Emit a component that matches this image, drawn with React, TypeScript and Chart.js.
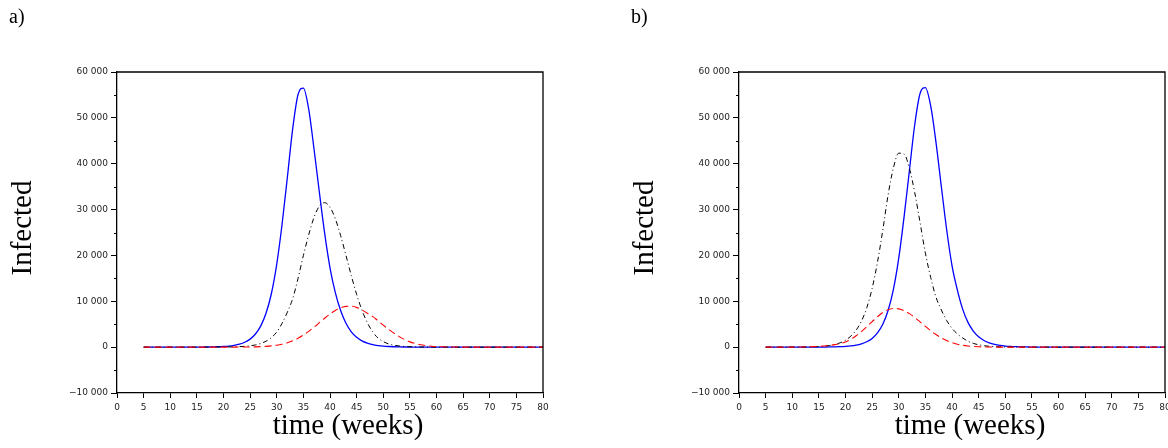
import { useEffect, useRef } from 'react'
import { Chart, registerables } from 'chart.js'
Chart.register(...registerables)

const WEEKS = [5, 6, 7, 8, 9, 10, 11, 12, 13, 14, 15, 16, 17, 18, 19, 20, 21, 22, 23, 24, 25, 26, 27, 28, 29,
  30, 31, 32, 33, 34, 35, 36, 37, 38, 39, 40, 41, 42, 43, 44, 45, 46, 47, 48, 49, 50, 51, 52, 53, 54,
  55, 56, 57, 58, 59, 60, 61, 62, 63, 64, 65, 66, 67, 68, 69, 70, 71, 72, 73, 74, 75, 76, 77, 78, 79, 80]

// a) — weeks 5..80
const BLUE_A = [0, 0, 1, 1, 2, 3, 4, 6, 9, 12, 18, 25, 35, 55, 90, 150, 240, 400, 650, 1070, 1750, 2860, 4640, 7450, 11700,
  18100, 26800, 37100, 47700, 55100, 56500, 51900, 43200, 33800, 24800, 17300, 11900, 8000, 5200, 3350,
  2150, 1370, 870, 550, 350, 220, 140, 88, 55, 35, 22, 14, 9, 5, 3, 2, 1, 1, 1, 0,
  0, 0, 0, 0, 0, 0, 0, 0, 0, 0, 0, 0, 0, 0, 0, 0]
const BLACK_A = [0, 0, 0, 0, 0, 0, 0, 0, 0, 1, 2, 4, 6, 9, 15, 25, 40, 65, 105, 175, 290, 480, 800, 1300, 2100,
  3300, 5200, 7640, 10600, 15000, 20000, 24500, 28300, 30750, 31500, 30500, 28000, 24300, 20000, 15600,
  11500, 8070, 5350, 3360, 2000, 1200, 720, 430, 260, 155, 95, 55, 33, 20, 12, 7, 4, 2, 1, 0,
  0, 0, 0, 0, 0, 0, 0, 0, 0, 0, 0, 0, 0, 0, 0, 0]
const RED_A = [0, 0, 0, 0, 0, 0, 0, 0, 0, 0, 0, 1, 2, 3, 4, 5, 8, 12, 18, 25, 40, 65, 105, 170, 270,
  420, 650, 970, 1400, 1950, 2630, 3440, 4360, 5330, 6310, 7220, 8000, 8580, 8900, 8930,
  8670, 8140, 7390, 6700, 5750, 4800, 3900, 3050, 2300, 1650, 1150, 780, 510, 330, 205, 125, 75, 45, 27, 15,
  9, 5, 3, 2, 1, 0, 0, 0, 0, 0, 0, 0, 0, 0, 0, 0]

// b) — weeks 5..80
const BLUE_B = [0, 0, 0, 0, 0, 1, 2, 4, 6, 9, 15, 24, 38, 62, 100, 165, 270, 440, 720, 1170, 1900, 3100, 5000, 8000, 12600,
  19400, 28400, 38500, 48500, 55300, 56600, 52600, 44600, 35000, 25600, 17800, 12500, 8300, 5400, 3500,
  2250, 1450, 920, 580, 370, 235, 150, 95, 60, 38, 24, 15, 9, 6, 4, 2, 1, 1, 0, 0,
  0, 0, 0, 0, 0, 0, 0, 0, 0, 0, 0, 0, 0, 0, 0, 0]
const BLACK_B = [1, 1, 2, 4, 6, 10, 16, 27, 45, 75, 125, 210, 350, 580, 950, 1500, 2400, 3700, 5700, 8600, 12800, 18500, 25500, 33200, 39100,
  42300, 42100, 39000, 33700, 27200, 20500, 15200, 10900, 8100, 5800, 4100, 2900, 2000, 1300, 820,
  510, 310, 190, 115, 70, 40, 25, 15, 9, 5, 3, 2, 1, 0, 0, 0, 0, 0, 0, 0,
  0, 0, 0, 0, 0, 0, 0, 0, 0, 0, 0, 0, 0, 0, 0, 0]
const RED_B = [1, 2, 3, 5, 8, 14, 25, 45, 70, 110, 170, 260, 380, 540, 760, 1140, 1720, 2480, 3400, 4460, 5570, 6630, 7540, 8170, 8440,
  8350, 7960, 7310, 6470, 5520, 4540, 3590, 2740, 2010, 1430, 975, 640, 410, 250, 150,
  90, 50, 30, 15, 8, 4, 2, 1, 0, 0, 0, 0, 0, 0, 0, 0, 0, 0, 0, 0,
  0, 0, 0, 0, 0, 0, 0, 0, 0, 0, 0, 0, 0, 0, 0, 0]

const MINOR_Y = [-5000, 5000, 15000, 25000, 35000, 45000, 55000]

const SERIF = '"Liberation Serif", "Times New Roman", Times, serif'
const TICK_FONT = { family: '"DejaVu Sans", sans-serif', size: 9 }

const fmt = (v: number) => (v < 0 ? '\u2212' : '') + String(Math.abs(v)).replace(/\B(?=(\d{3})+(?!\d))/g, ' ')

const frame = {
  id: 'frame',
  afterDraw(chart: any) {
    const { ctx, chartArea: a, scales } = chart
    ctx.save()
    ctx.strokeStyle = '#000'
    ctx.lineWidth = 1.3
    ctx.beginPath()
    ctx.moveTo(a.left, a.top)
    ctx.lineTo(a.right, a.top)
    ctx.lineTo(a.right, a.bottom)
    ctx.stroke()
    ctx.lineWidth = 1
    MINOR_Y.forEach(v => {
      const py = Math.round(scales.y.getPixelForValue(v)) + 0.5
      ctx.beginPath()
      ctx.moveTo(a.left - 3, py)
      ctx.lineTo(a.left, py)
      ctx.stroke()
    })
    ctx.restore()
  },
}

function Panel({ blue, black, red, axisWidth, padRight }: { blue: number[]; black: number[]; red: number[]; axisWidth: number; padRight: number }) {
  const ref = useRef<HTMLCanvasElement>(null)

  useEffect(() => {
    if (!ref.current) return
    const pts = (vals: number[]) => WEEKS.map((w, i) => ({ x: w, y: vals[i] }))
    const chart = new Chart(ref.current, {
      type: 'line',
      data: {
        datasets: [
          { data: pts(red), borderColor: '#ff0000', borderWidth: 1.1, borderDash: [7, 4] },
          { data: pts(black), borderColor: '#000000', borderWidth: 1, borderDash: [5, 3, 1, 3] },
          { data: pts(blue), borderColor: '#0000ff', borderWidth: 1.3 },
        ],
      },
      options: {
        responsive: true, maintainAspectRatio: false, animation: false,
        layout: { padding: { left: 0, right: padRight, top: 72, bottom: 0 } },
        elements: { point: { radius: 0 }, line: { cubicInterpolationMode: 'monotone', fill: false } },
        plugins: { legend: { display: false }, tooltip: { enabled: false } },
        scales: {
          x: {
            type: 'linear', min: 0, max: 80,
            ticks: { stepSize: 5, font: TICK_FONT, color: '#222', padding: 4, maxRotation: 0, autoSkip: false },
            grid: { drawOnChartArea: false, tickLength: 5, color: '#000' },
            border: { color: '#000', width: 1.3 },
            afterFit: (s: any) => { s.height = 55 },
          },
          y: {
            min: -10000, max: 60000,
            ticks: { stepSize: 10000, font: TICK_FONT, color: '#222', padding: 3, callback: v => fmt(Number(v)) },
            grid: { drawOnChartArea: false, tickLength: 6, color: '#000' },
            border: { color: '#000', width: 1.3 },
            afterFit: (s: any) => { s.width = axisWidth },
          },
        },
      },
      plugins: [frame],
    })
    return () => chart.destroy()
  }, [blue, black, red, axisWidth, padRight])

  return <canvas ref={ref} />
}

const label = (extra: React.CSSProperties): React.CSSProperties => ({
  position: 'absolute', fontFamily: SERIF, lineHeight: 1, whiteSpace: 'nowrap', color: '#000', ...extra,
})

export default function App() {
  return (
    <div style={{ position: 'absolute', left: 0, top: 0, width: 1168, height: 448, overflow: 'hidden', background: '#fff' }}>
      <div style={{ position: 'absolute', left: 0, top: 0, width: 584, height: 448 }}>
        <Panel blue={BLUE_A} black={BLACK_A} red={RED_A} axisWidth={117} padRight={41} />
      </div>
      <div style={{ position: 'absolute', left: 584, top: 0, width: 600, height: 448 }}>
        <Panel blue={BLUE_B} black={BLACK_B} red={RED_B} axisWidth={155} padRight={19} />
      </div>

      <div style={label({ left: 9, top: 6, fontSize: 20 })}>a)</div>
      <div style={label({ left: 631, top: 6, fontSize: 20 })}>b)</div>

      <div style={label({ left: 21, top: 228, fontSize: 29, transform: 'translate(-50%, -50%) rotate(-90deg)' })}>Infected</div>
      <div style={label({ left: 643, top: 228, fontSize: 29, transform: 'translate(-50%, -50%) rotate(-90deg)' })}>Infected</div>

      <div style={label({ left: 348, top: 410, fontSize: 29, transform: 'translateX(-50%)' })}>time (weeks)</div>
      <div style={label({ left: 970, top: 410, fontSize: 29, transform: 'translateX(-50%)' })}>time (weeks)</div>
    </div>
  )
}
